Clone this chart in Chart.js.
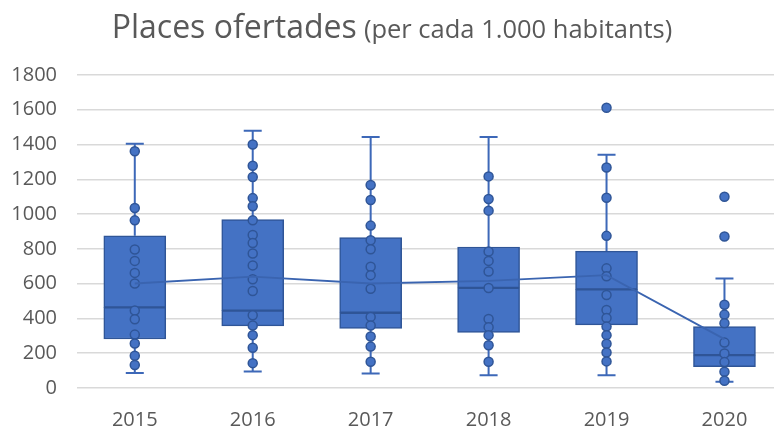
<!DOCTYPE html>
<html>
<head>
<meta charset="utf-8">
<script src="https://cdn.jsdelivr.net/npm/chart.js@4.4.1/dist/chart.umd.min.js"></script>
<style>
  html, body { margin: 0; padding: 0; background: #fff; }
  #wrap { position: relative; width: 780px; height: 430px; }
  #titol { position: absolute; top: 4px; left: 2px; width: 780px; text-align: center;
           font-family: "Open Sans", sans-serif; color: #595959; white-space: nowrap; }
  #titol .gran { font-size: 32px; }
  #titol .petit { font-size: 25.5px; margin-left: 3px; }
  canvas { display: block; }
</style>
</head>
<body>
<div id="wrap">
  <div id="titol"><span class="gran">Places ofertades</span> <span class="petit">(per cada 1.000 habitants)</span></div>
  <canvas id="grafic" width="780" height="430"></canvas>
</div>
<script>
// anys i resum de cada caixa
const anys = ['2015', '2016', '2017', '2018', '2019', '2020'];
const minim = [86, 95, 84, 74, 74, 36];
const q1 = [282, 357, 342, 319, 363, 122];
const mediana = [464, 445, 433, 576, 567, 189];
const q3 = [875, 968, 865, 811, 787, 353];
const maxim = [1405, 1480, 1444, 1444, 1341, 630];
const mitjana = [601, 640, 601, 616, 649, 281];

// punts de cada any
const punts2015 = [1362, 1035, 964, 796, 731, 662, 601, 445, 395, 307, 256, 185, 132];
const punts2016 = [1400, 1278, 1213, 1092, 1045, 964, 880, 834, 773, 705, 625, 558, 418, 359, 304, 231, 143];
const punts2017 = [1167, 1081, 934, 850, 798, 697, 649, 571, 409, 359, 296, 238, 151];
const punts2018 = [1217, 1087, 1020, 785, 731, 670, 575, 397, 350, 304, 246, 151];
const punts2019 = [1612, 1268, 1094, 875, 688, 643, 535, 449, 403, 353, 304, 254, 204, 153];
const punts2020 = [1100, 871, 479, 422, 372, 261, 198, 149, 93, 42];
const punts = [punts2015, punts2016, punts2017, punts2018, punts2019, punts2020];

const blau = '#4472C4';
const blauFosc = '#2F5597';
const gris = '#595959';

// bigotis: linies des de la caixa fins al min/max amb tapa
const bigotis = {
  id: 'bigotis',
  beforeDatasetsDraw(chart) {
    const { ctx, scales: { x, y } } = chart;
    ctx.save();
    ctx.strokeStyle = '#3D68B8';
    ctx.lineWidth = 2;
    anys.forEach((a, i) => {
      const px = x.getPixelForValue(i);
      const parts = [[q3[i], maxim[i]], [q1[i], minim[i]]];
      parts.forEach(([de, fins]) => {
        ctx.beginPath();
        ctx.moveTo(px, y.getPixelForValue(de));
        ctx.lineTo(px, y.getPixelForValue(fins));
        ctx.moveTo(px - 9, y.getPixelForValue(fins));
        ctx.lineTo(px + 9, y.getPixelForValue(fins));
        ctx.stroke();
      });
    });
    ctx.restore();
  }
};

const caixaBaix = anys.map((a, i) => ({ x: i, y: [q1[i], mediana[i]] }));
const caixaDalt = anys.map((a, i) => ({ x: i, y: [mediana[i], q3[i]] }));
const puntsXY = [];
punts.forEach((llista, i) => llista.forEach(v => puntsXY.push({ x: i, y: v })));
const mitjanaXY = anys.map((a, i) => ({ x: i, y: mitjana[i] }));

const estilCaixa = {
  type: 'bar',
  backgroundColor: blau,
  borderColor: blauFosc,
  borderWidth: 1.5,
  borderSkipped: false,
  barThickness: 62,
  grouped: false,
  order: 3
};

new Chart(document.getElementById('grafic'), {
  data: {
    datasets: [
      Object.assign({ label: 'Q1-mediana', data: caixaBaix }, estilCaixa),
      Object.assign({ label: 'mediana-Q3', data: caixaDalt }, estilCaixa),
      {
        type: 'scatter',
        label: 'Punts',
        data: puntsXY,
        pointRadius: 4.5,
        pointBackgroundColor: blau,
        pointBorderColor: blauFosc,
        pointBorderWidth: 1.5,
        order: 2
      },
      {
        type: 'line',
        label: 'Mitjana',
        data: mitjanaXY,
        borderColor: '#3A64B0',
        borderWidth: 1.8,
        pointRadius: 0,
        tension: 0,
        order: 1
      }
    ]
  },
  options: {
    responsive: false,
    animation: false,
    layout: { padding: { top: 75, right: 0, left: 0, bottom: 0 } },
    plugins: {
      legend: { display: false },
      tooltip: { enabled: false }
    },
    scales: {
      x: {
        type: 'linear',
        offset: false,
        min: -0.49,
        max: 5.42,
        afterBuildTicks: s => { s.ticks = anys.map((a, i) => ({ value: i })); },
        afterFit: s => { s.height = 42; },
        grid: { display: false },
        border: { display: false },
        ticks: {
          callback: v => anys[v],
          color: gris,
          padding: 12,
          font: { family: 'Open Sans', size: 20 }
        }
      },
      y: {
        min: 0,
        max: 1800,
        afterFit: s => { s.width = 77; },
        grid: { color: '#D9D9D9', lineWidth: 1.5, drawTicks: false },
        border: { display: false },
        ticks: {
          stepSize: 200,
          callback: v => String(v),
          color: gris,
          padding: 20,
          font: { family: 'Open Sans', size: 20 }
        }
      }
    }
  },
  plugins: [bigotis]
});
</script>
</body>
</html>
